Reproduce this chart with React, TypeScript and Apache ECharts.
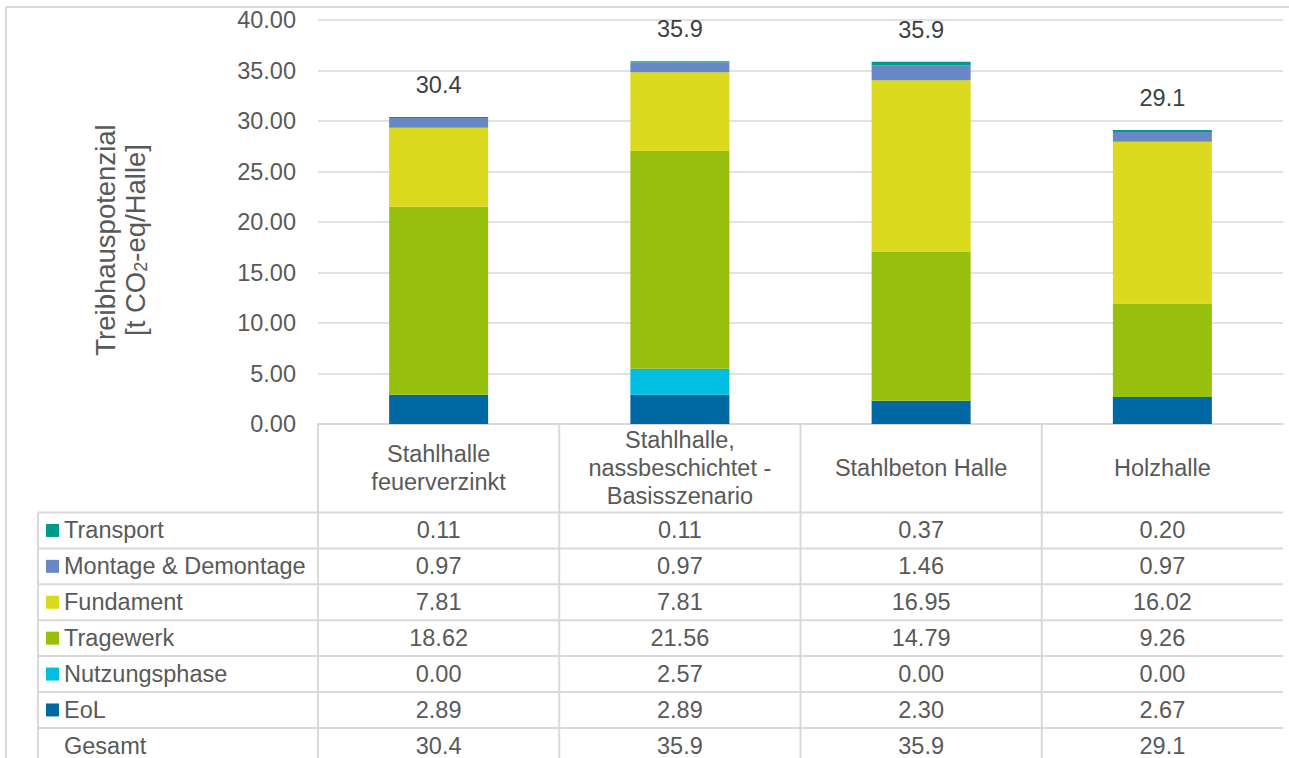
import React, { useEffect, useRef } from "react";
import * as echarts from "echarts";

// Hall variants (x categories)
const categories = [
  "Stahlhalle\nfeuerverzinkt",
  "Stahlhalle,\nnassbeschichtet -\nBasisszenario",
  "Stahlbeton Halle",
  "Holzhalle",
];

// Global warming potential per life-cycle component [t CO2-eq/Halle]
const transport = [0.11, 0.11, 0.37, 0.2];
const montage = [0.97, 0.97, 1.46, 0.97];
const fundament = [7.81, 7.81, 16.95, 16.02];
const tragewerk = [18.62, 21.56, 14.79, 9.26];
const nutzungsphase = [0.0, 2.57, 0.0, 0.0];
const eol = [2.89, 2.89, 2.3, 2.67];

// Value axis
const yMin = 0;
const yMax = 40;
const yStep = 5;

// Component rows, top to bottom as listed in the data table
const components = [
  { name: "Transport", values: transport, color: "#00998A" },
  { name: "Montage & Demontage", values: montage, color: "#6887C5" },
  { name: "Fundament", values: fundament, color: "#DCDA1E" },
  { name: "Tragewerk", values: tragewerk, color: "#97BF0D" },
  { name: "Nutzungsphase", values: nutzungsphase, color: "#00BEE0" },
  { name: "EoL", values: eol, color: "#0068A3" },
];

const totals = categories.map((_, i) =>
  components.reduce((s, c) => s + c.values[i], 0)
);

// Layout
const W = 1289;
const H = 758;
const plotLeft = 318;
const plotRight = 1283;
const plotTop = 20;
const plotBottom = 424;
const colW = (plotRight - plotLeft) / categories.length;
const tableLeft = 38;
const headerBottom = 512.5;
const rowH = 35.9;

const FONT = "'Liberation Sans', Arial, Helvetica, sans-serif";
const FS = 23.5;
const TEXT = "#595959";
const RULE = "#D9D9D9";

function buildGraphics() {
  const g: any[] = [];
  const line = (x1: number, y1: number, x2: number, y2: number) =>
    g.push({
      type: "line",
      silent: true,
      shape: { x1, y1, x2, y2 },
      style: { stroke: RULE, lineWidth: 2 },
    });

  // outer frame
  line(6, 7, W, 7);
  line(6, 7, 6, H);

  // table grid
  for (let k = 0; k < categories.length; k++) {
    const x = plotLeft + colW * k;
    line(x, plotBottom, x, H);
  }
  line(tableLeft, headerBottom, tableLeft, H);
  const rowCount = components.length + 1;
  for (let r = 0; r < rowCount; r++) {
    const y = headerBottom + rowH * r;
    line(tableLeft, y, plotRight, y);
  }

  // table rows
  const rows = [
    ...components.map((c) => ({
      name: c.name,
      color: c.color as string | null,
      cells: c.values.map((v) => v.toFixed(2)),
    })),
    { name: "Gesamt", color: null, cells: totals.map((t) => t.toFixed(1)) },
  ];
  rows.forEach((row, r) => {
    const cy = headerBottom + rowH * (r + 0.5);
    if (row.color) {
      g.push({
        type: "rect",
        silent: true,
        shape: { x: 46, y: cy - 6.5, width: 13, height: 13 },
        style: { fill: row.color },
      });
    }
    g.push({
      type: "text",
      silent: true,
      x: 64,
      y: cy,
      style: {
        text: row.name,
        fill: TEXT,
        font: `${FS}px ${FONT}`,
        align: "left",
        verticalAlign: "middle",
      },
    });
    row.cells.forEach((cell, i) => {
      g.push({
        type: "text",
        silent: true,
        x: plotLeft + colW * (i + 0.5),
        y: cy,
        style: {
          text: cell,
          fill: TEXT,
          font: `${FS}px ${FONT}`,
          align: "center",
          verticalAlign: "middle",
        },
      });
    });
  });

  // value axis title
  g.push({
    type: "text",
    silent: true,
    x: 120,
    y: 240,
    rotation: Math.PI / 2,
    style: {
      text: "{n|Treibhauspotenzial}\n{n|[t CO}{s|2}{n|-eq/Halle]}",
      align: "center",
      verticalAlign: "middle",
      rich: {
        n: { fontSize: 27.5, fontFamily: FONT, fill: TEXT, lineHeight: 30, verticalAlign: "middle" },
        s: { fontSize: 18, fontFamily: FONT, fill: TEXT, lineHeight: 30, verticalAlign: "bottom" },
      },
    },
  });
  return g;
}

export default function App() {
  const ref = useRef<HTMLDivElement>(null);

  useEffect(() => {
    if (!ref.current) return;
    const chart = echarts.init(ref.current, null, { renderer: "svg" });

    const stackOrder = [...components].reverse();
    const series = stackOrder.map((c, idx) => ({
      name: c.name,
      type: "bar",
      stack: "total",
      barWidth: 99,
      data: c.values,
      itemStyle: { color: c.color },
      label:
        idx === stackOrder.length - 1
          ? {
              show: true,
              position: "top",
              distance: 20,
              formatter: (p: any) => totals[p.dataIndex].toFixed(1),
              fontSize: FS,
              fontFamily: FONT,
              color: "#404040",
            }
          : { show: false },
    }));

    chart.setOption({
      animation: false,
      backgroundColor: "#ffffff",
      textStyle: { fontFamily: FONT },
      grid: {
        left: plotLeft,
        right: W - plotRight,
        top: plotTop,
        bottom: H - plotBottom,
        containLabel: false,
      },
      xAxis: {
        type: "category",
        data: categories,
        axisLine: { show: true, lineStyle: { color: RULE, width: 2 } },
        axisTick: { show: false },
        axisLabel: {
          interval: 0,
          margin: 44,
          fontSize: FS,
          lineHeight: 28,
          color: TEXT,
          fontFamily: FONT,
          verticalAlign: "middle",
          align: "center",
        },
      },
      yAxis: {
        type: "value",
        min: yMin,
        max: yMax,
        interval: yStep,
        axisLine: { show: false },
        axisTick: { show: false },
        splitLine: { lineStyle: { color: RULE, width: 1.5 } },
        axisLabel: {
          formatter: (v: number) => v.toFixed(2),
          fontSize: FS,
          color: TEXT,
          fontFamily: FONT,
          margin: 22,
        },
      },
      series,
      graphic: buildGraphics(),
    });

    return () => chart.dispose();
  }, []);

  return (
    <div
      ref={ref}
      style={{ position: "fixed", left: 0, top: 0, width: W, height: H, background: "#fff" }}
    />
  );
}
